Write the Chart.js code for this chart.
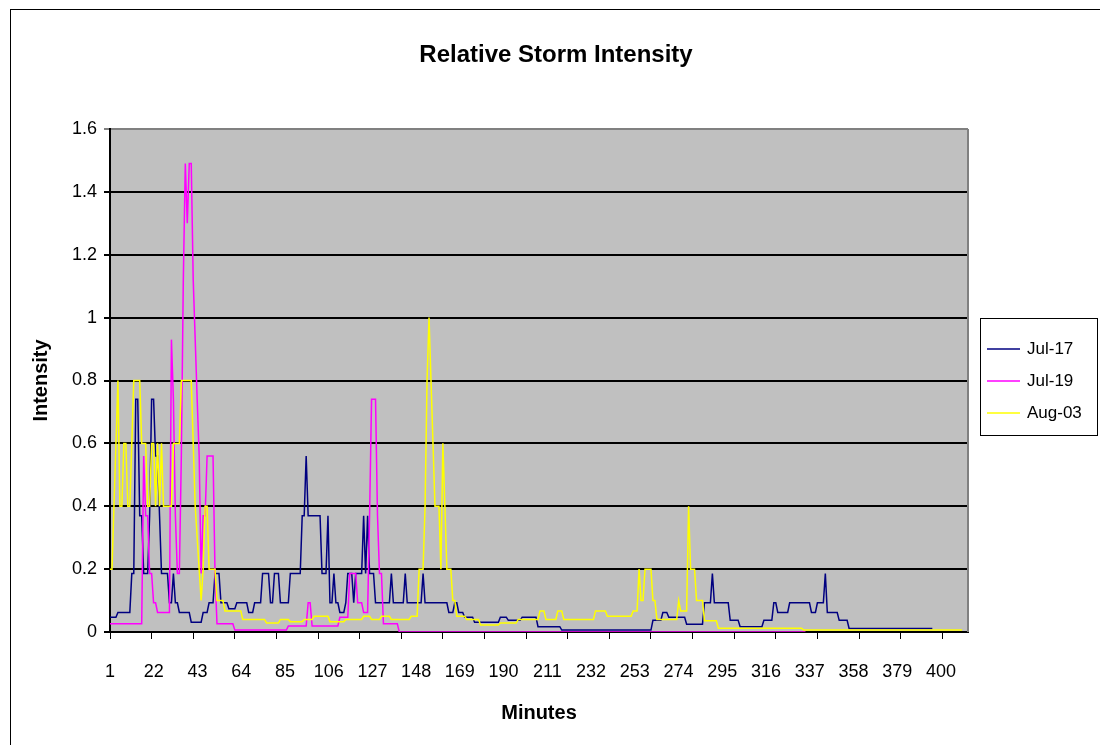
<!DOCTYPE html>
<html>
<head>
<meta charset="utf-8">
<title>Relative Storm Intensity</title>
<script src="https://cdn.jsdelivr.net/npm/chart.js@4"></script>
<style>
    body { margin: 0; background: #fff; }
    #stormChart { display: block; }
</style>
</head>
<body>
<canvas id="stormChart" width="1100" height="745"></canvas>

<script>
    const chartTitle = 'Relative Storm Intensity';
    const seriesNames = ['Jul-17', 'Jul-19', 'Aug-03'];
    const seriesColors = ['#000080', '#ff00ff', '#ffff00'];

    // position of every reading along the time axis (1..434)
    const samples = Array.from({ length: 434 }, (_, i) => i + 1);
    // tick marks sit every 21 readings
    const tickMarks = [1, 22, 43, 64, 85, 106, 127, 148, 169, 190, 211, 232, 253, 274, 295, 316, 337, 358, 379, 400, 421];

    // minute labels printed under the axis
    const minuteRange = [1, 413];
    const minuteLabels = [1, 22, 43, 64, 85, 106, 127, 148, 169, 190, 211, 232, 253, 274, 295, 316, 337, 358, 379, 400];

    const yTicks = { min: 0, max: 1.6, step: 0.2 };

    const jul17 = [
        0.047, 0.047, 0.047, 0.047, 0.062, 0.062, 0.062, 0.062, 0.062, 0.062, 0.062, 0.186, 0.186, 0.74, 0.74, 0.37, 0.37, 0.186, 0.186, 0.186,
        0.37, 0.74, 0.74, 0.56, 0.56, 0.37, 0.186, 0.186, 0.186, 0.186, 0.093, 0.093, 0.186, 0.093, 0.093, 0.062, 0.062, 0.062, 0.062, 0.062,
        0.062, 0.031, 0.031, 0.031, 0.031, 0.031, 0.031, 0.062, 0.062, 0.062, 0.093, 0.093, 0.093, 0.186, 0.186, 0.186, 0.093, 0.093, 0.093, 0.093,
        0.074, 0.074, 0.074, 0.074, 0.093, 0.093, 0.093, 0.093, 0.093, 0.093, 0.062, 0.062, 0.062, 0.093, 0.093, 0.093, 0.093, 0.186, 0.186, 0.186,
        0.186, 0.093, 0.093, 0.186, 0.186, 0.186, 0.093, 0.093, 0.093, 0.093, 0.093, 0.186, 0.186, 0.186, 0.186, 0.186, 0.186, 0.37, 0.37, 0.56,
        0.37, 0.37, 0.37, 0.37, 0.37, 0.37, 0.37, 0.186, 0.186, 0.186, 0.37, 0.093, 0.093, 0.186, 0.093, 0.093, 0.062, 0.062, 0.062, 0.093,
        0.186, 0.186, 0.186, 0.093, 0.186, 0.186, 0.186, 0.186, 0.37, 0.186, 0.37, 0.186, 0.186, 0.186, 0.093, 0.093, 0.093, 0.093, 0.093, 0.093,
        0.093, 0.093, 0.186, 0.093, 0.093, 0.093, 0.093, 0.093, 0.093, 0.186, 0.093, 0.093, 0.093, 0.093, 0.093, 0.093, 0.093, 0.093, 0.186, 0.093,
        0.093, 0.093, 0.093, 0.093, 0.093, 0.093, 0.093, 0.093, 0.093, 0.093, 0.093, 0.062, 0.062, 0.062, 0.093, 0.093, 0.062, 0.062, 0.062, 0.047,
        0.047, 0.047, 0.047, 0.047, 0.031, 0.031, 0.031, 0.031, 0.031, 0.031, 0.031, 0.031, 0.031, 0.031, 0.031, 0.031, 0.031, 0.047, 0.047, 0.047,
        0.047, 0.037, 0.037, 0.037, 0.037, 0.037, 0.037, 0.037, 0.047, 0.047, 0.047, 0.047, 0.047, 0.047, 0.047, 0.047, 0.017, 0.017, 0.017, 0.017,
        0.017, 0.017, 0.017, 0.017, 0.017, 0.017, 0.017, 0.017, 0.006, 0.006, 0.006, 0.006, 0.006, 0.006, 0.006, 0.006, 0.006, 0.006, 0.006, 0.006,
        0.006, 0.006, 0.006, 0.006, 0.006, 0.006, 0.006, 0.006, 0.006, 0.006, 0.006, 0.006, 0.006, 0.006, 0.006, 0.006, 0.006, 0.006, 0.006, 0.006,
        0.006, 0.006, 0.006, 0.006, 0.006, 0.006, 0.006, 0.006, 0.006, 0.006, 0.006, 0.006, 0.006, 0.006, 0.037, 0.037, 0.037, 0.037, 0.037, 0.062,
        0.062, 0.062, 0.047, 0.047, 0.047, 0.047, 0.047, 0.047, 0.047, 0.047, 0.047, 0.025, 0.025, 0.025, 0.025, 0.025, 0.025, 0.025, 0.025, 0.025,
        0.093, 0.093, 0.093, 0.093, 0.186, 0.093, 0.093, 0.093, 0.093, 0.093, 0.093, 0.093, 0.093, 0.037, 0.037, 0.037, 0.037, 0.037, 0.017, 0.017,
        0.017, 0.017, 0.017, 0.017, 0.017, 0.017, 0.017, 0.017, 0.017, 0.017, 0.037, 0.037, 0.037, 0.037, 0.037, 0.093, 0.093, 0.062, 0.062, 0.062,
        0.062, 0.062, 0.062, 0.093, 0.093, 0.093, 0.093, 0.093, 0.093, 0.093, 0.093, 0.093, 0.093, 0.093, 0.062, 0.062, 0.062, 0.093, 0.093, 0.093,
        0.093, 0.186, 0.062, 0.062, 0.062, 0.062, 0.062, 0.062, 0.037, 0.037, 0.037, 0.037, 0.037, 0.011, 0.011, 0.011, 0.011, 0.011, 0.011, 0.011,
        0.011, 0.011, 0.011, 0.011, 0.011, 0.011, 0.011, 0.011, 0.011, 0.011, 0.011, 0.011, 0.011, 0.011, 0.011, 0.011, 0.011, 0.011, 0.011, 0.011,
        0.011, 0.011, 0.011, 0.011, 0.011, 0.011, 0.011, 0.011, 0.011, 0.011, 0.011, 0.011, 0.011, 0.011, 0.011, 0.011
    ];

    const jul19 = [
        0.026, 0.026, 0.026, 0.026, 0.026, 0.026, 0.026, 0.026, 0.026, 0.026, 0.026, 0.026, 0.026, 0.026, 0.026, 0.026, 0.026, 0.56, 0.37, 0.37,
        0.186, 0.186, 0.093, 0.093, 0.062, 0.062, 0.062, 0.062, 0.062, 0.062, 0.062, 0.93, 0.74, 0.37, 0.186, 0.186, 0.56, 1.12, 1.49, 1.30,
        1.49, 1.49, 1.12, 0.93, 0.74, 0.56, 0.186, 0.37, 0.37, 0.56, 0.56, 0.56, 0.56, 0.186, 0.026, 0.026, 0.026, 0.026, 0.026, 0.026,
        0.026, 0.026, 0.026, 0.006, 0.006, 0.006, 0.006, 0.006, 0.006, 0.006, 0.006, 0.006, 0.006, 0.006, 0.006, 0.006, 0.006, 0.006, 0.006, 0.006,
        0.006, 0.006, 0.006, 0.006, 0.006, 0.006, 0.006, 0.006, 0.006, 0.006, 0.019, 0.019, 0.019, 0.019, 0.019, 0.019, 0.019, 0.019, 0.019, 0.019,
        0.093, 0.093, 0.019, 0.019, 0.019, 0.019, 0.019, 0.019, 0.019, 0.019, 0.019, 0.019, 0.019, 0.019, 0.019, 0.019, 0.047, 0.047, 0.047, 0.047,
        0.047, 0.186, 0.186, 0.186, 0.186, 0.093, 0.093, 0.093, 0.062, 0.062, 0.062, 0.37, 0.74, 0.74, 0.74, 0.37, 0.186, 0.186, 0.026, 0.026,
        0.026, 0.026, 0.026, 0.026, 0.026, 0.026, 0, 0, 0, 0, 0, 0, 0, 0, 0, 0, 0, 0, 0, 0,
        0, 0, 0, 0, 0, 0, 0, 0, 0, 0, 0, 0, 0, 0, 0, 0, 0, 0, 0, 0,
        0, 0, 0, 0, 0, 0, 0, 0, 0, 0, 0, 0, 0, 0, 0, 0, 0, 0, 0, 0,
        0, 0, 0, 0, 0, 0, 0, 0, 0, 0, 0, 0, 0, 0, 0, 0, 0, 0, 0, 0,
        0, 0, 0, 0, 0, 0, 0, 0, 0, 0, 0, 0, 0, 0, 0, 0, 0, 0, 0, 0,
        0, 0, 0, 0, 0, 0, 0, 0, 0, 0, 0, 0, 0, 0, 0, 0, 0, 0, 0, 0,
        0, 0, 0, 0, 0, 0, 0, 0, 0, 0, 0, 0, 0, 0, 0, 0, 0, 0, 0, 0,
        0, 0, 0, 0, 0, 0, 0, 0, 0, 0, 0, 0, 0, 0, 0, 0, 0, 0, 0, 0,
        0, 0, 0, 0, 0, 0, 0, 0, 0, 0, 0, 0, 0, 0, 0, 0, 0, 0, 0, 0,
        0, 0, 0, 0, 0, 0, 0, 0, 0, 0, 0, 0, 0, 0, 0, 0, 0, 0, 0, 0,
        0, 0, 0, 0, 0, 0, 0, 0, 0, 0, 0, 0
    ];

    const aug03 = [
        0.2, 0.2, 0.4, 0.6, 0.8, 0.4, 0.4, 0.6, 0.6, 0.4, 0.4, 0.6, 0.8, 0.8, 0.8, 0.8, 0.6, 0.6, 0.6, 0.4,
        0.4, 0.6, 0.6, 0.4, 0.6, 0.4, 0.6, 0.4, 0.4, 0.4, 0.4, 0.4, 0.6, 0.6, 0.6, 0.6, 0.8, 0.8, 0.8, 0.8,
        0.8, 0.8, 0.6, 0.4, 0.3, 0.2, 0.1, 0.2, 0.4, 0.4, 0.2, 0.2, 0.2, 0.2, 0.1, 0.1, 0.1, 0.1, 0.067, 0.067,
        0.067, 0.067, 0.067, 0.067, 0.067, 0.067, 0.067, 0.04, 0.04, 0.04, 0.04, 0.04, 0.04, 0.04, 0.04, 0.04, 0.04, 0.04, 0.04, 0.029,
        0.029, 0.029, 0.029, 0.029, 0.029, 0.029, 0.04, 0.04, 0.04, 0.04, 0.04, 0.033, 0.033, 0.033, 0.033, 0.033, 0.033, 0.033, 0.04, 0.04,
        0.04, 0.04, 0.04, 0.05, 0.05, 0.05, 0.05, 0.05, 0.05, 0.05, 0.05, 0.033, 0.033, 0.033, 0.033, 0.033, 0.033, 0.033, 0.033, 0.04,
        0.04, 0.04, 0.04, 0.04, 0.04, 0.04, 0.04, 0.04, 0.05, 0.05, 0.05, 0.05, 0.04, 0.04, 0.04, 0.04, 0.04, 0.05, 0.05, 0.05,
        0.05, 0.05, 0.04, 0.04, 0.04, 0.04, 0.04, 0.04, 0.04, 0.04, 0.04, 0.04, 0.05, 0.05, 0.05, 0.05, 0.2, 0.2, 0.2, 0.4,
        0.8, 1.0, 0.8, 0.6, 0.4, 0.4, 0.4, 0.2, 0.6, 0.4, 0.2, 0.2, 0.2, 0.1, 0.1, 0.05, 0.05, 0.05, 0.05, 0.05,
        0.04, 0.04, 0.04, 0.04, 0.04, 0.04, 0.04, 0.022, 0.022, 0.022, 0.022, 0.022, 0.022, 0.022, 0.022, 0.022, 0.022, 0.029, 0.029, 0.029,
        0.029, 0.029, 0.029, 0.029, 0.029, 0.029, 0.04, 0.04, 0.04, 0.04, 0.04, 0.04, 0.04, 0.04, 0.04, 0.04, 0.04, 0.067, 0.067, 0.067,
        0.04, 0.04, 0.04, 0.04, 0.04, 0.04, 0.067, 0.067, 0.067, 0.04, 0.04, 0.04, 0.04, 0.04, 0.04, 0.04, 0.04, 0.04, 0.04, 0.04,
        0.04, 0.04, 0.04, 0.04, 0.04, 0.067, 0.067, 0.067, 0.067, 0.067, 0.067, 0.05, 0.05, 0.05, 0.05, 0.05, 0.05, 0.05, 0.05, 0.05,
        0.05, 0.05, 0.05, 0.05, 0.067, 0.067, 0.067, 0.2, 0.1, 0.1, 0.2, 0.2, 0.2, 0.2, 0.1, 0.1, 0.04, 0.04, 0.04, 0.04,
        0.04, 0.04, 0.04, 0.04, 0.04, 0.04, 0.04, 0.1, 0.067, 0.067, 0.067, 0.067, 0.4, 0.2, 0.2, 0.2, 0.1, 0.1, 0.1, 0.1,
        0.036, 0.036, 0.036, 0.036, 0.036, 0.036, 0.036, 0.012, 0.012, 0.012, 0.012, 0.012, 0.012, 0.012, 0.012, 0.012, 0.012, 0.012, 0.012, 0.012,
        0.012, 0.012, 0.012, 0.012, 0.012, 0.012, 0.012, 0.012, 0.012, 0.012, 0.012, 0.012, 0.012, 0.012, 0.012, 0.012, 0.012, 0.012, 0.012, 0.012,
        0.012, 0.012, 0.012, 0.012, 0.012, 0.012, 0.012, 0.012, 0.012, 0.012, 0.006, 0.006, 0.006, 0.006, 0.006, 0.006, 0.006, 0.006, 0.006, 0.006,
        0.006, 0.006, 0.006, 0.006, 0.006, 0.006, 0.006, 0.006, 0.006, 0.006, 0.006, 0.006, 0.006, 0.006, 0.006, 0.006, 0.006, 0.006, 0.006, 0.006,
        0.006, 0.006, 0.006, 0.006, 0.006, 0.006, 0.006, 0.006, 0.006, 0.006, 0.006, 0.006, 0.006, 0.006, 0.006, 0.006, 0.006, 0.006, 0.006, 0.006,
        0.006, 0.006, 0.006, 0.006, 0.006, 0.006, 0.006, 0.006, 0.006, 0.006, 0.006, 0.006, 0.006, 0.006, 0.006, 0.006, 0.006, 0.006, 0.006, 0.006,
        0.006, 0.006, 0.006, 0.006, 0.006, 0.006, 0.006, 0.006, 0.006, 0.006, 0.006
    ];

    const FONT = '"Liberation Sans", Arial, sans-serif';
    Chart.defaults.font.family = FONT;
    Chart.defaults.color = '#000';

    function toPoints(values) {
        return values.map((v, i) => ({ x: samples[i], y: v }));
    }

    // gray plot area, outer frame, title and boxed legend on the right
    const excelFrame = {
        id: 'excelFrame',
        beforeDraw(chart) {
            const { ctx, chartArea: a } = chart;
            ctx.save();
            ctx.fillStyle = '#c0c0c0';
            ctx.fillRect(a.left, a.top, a.right - a.left, a.bottom - a.top);
            ctx.restore();
        },
        afterDraw(chart) {
            const { ctx, chartArea: a } = chart;
            ctx.save();

            ctx.strokeStyle = '#808080';
            ctx.lineWidth = 2;
            ctx.beginPath();
            ctx.moveTo(a.right, a.top);
            ctx.lineTo(a.right, a.bottom);
            ctx.stroke();

            ctx.strokeStyle = '#000';
            ctx.lineWidth = 1;
            ctx.strokeRect(10.5, 9.5, 1100, 745);

            ctx.fillStyle = '#000';
            ctx.font = 'bold 24px ' + FONT;
            ctx.textAlign = 'center';
            ctx.textBaseline = 'middle';
            ctx.fillText(chartTitle, 556, 55);

            // legend box
            ctx.fillStyle = '#fff';
            ctx.fillRect(980.5, 318.5, 117, 117);
            ctx.strokeRect(980.5, 318.5, 117, 117);
            ctx.font = '17px ' + FONT;
            ctx.textAlign = 'left';
            chart.data.datasets.forEach((ds, i) => {
                const y = 349 + i * 32;
                ctx.strokeStyle = ds.borderColor;
                ctx.lineWidth = 1.5;
                ctx.beginPath();
                ctx.moveTo(987, y);
                ctx.lineTo(1020, y);
                ctx.stroke();
                ctx.fillStyle = '#000';
                ctx.fillText(ds.label, 1027, y);
            });
            ctx.restore();
        }
    };

    const ctx = document.getElementById('stormChart').getContext('2d');

    new Chart(ctx, {
        type: 'line',
        data: {
            datasets: [
                { label: seriesNames[0], data: toPoints(jul17), borderColor: seriesColors[0], order: 3 },
                { label: seriesNames[1], data: toPoints(jul19), borderColor: seriesColors[1], order: 2 },
                { label: seriesNames[2], data: toPoints(aug03), borderColor: seriesColors[2], order: 1 }
            ]
        },
        options: {
            responsive: false,
            animation: false,
            devicePixelRatio: 1,
            layout: { padding: { top: 129, right: 132, bottom: 0, left: 0 } },
            elements: {
                point: { radius: 0 },
                line: { borderWidth: 1.5, tension: 0, fill: false }
            },
            plugins: {
                legend: { display: false },
                title: { display: false },
                tooltip: { enabled: false }
            },
            scales: {
                // reading axis: only the line and its tick marks
                x: {
                    type: 'linear',
                    position: 'bottom',
                    weight: 0,
                    min: samples[0],
                    max: samples[samples.length - 1],
                    afterBuildTicks: axis => {
                        axis.ticks = tickMarks.map(v => ({ value: v }));
                    },
                    afterFit: axis => { axis.height = 7; },
                    ticks: { display: false },
                    grid: { drawOnChartArea: false, color: '#000', tickLength: 7, lineWidth: 1 },
                    border: { color: '#000', width: 2 }
                },
                // minute labels and axis title
                minutes: {
                    type: 'linear',
                    position: 'bottom',
                    weight: 1,
                    min: minuteRange[0],
                    max: minuteRange[1],
                    afterBuildTicks: axis => {
                        axis.ticks = minuteLabels.map(v => ({ value: v }));
                    },
                    afterFit: axis => { axis.height = 106; },
                    ticks: { autoSkip: false, maxRotation: 0, padding: 22, font: { size: 18 } },
                    grid: { display: false, drawTicks: false },
                    border: { display: false },
                    title: {
                        display: true,
                        text: 'Minutes',
                        font: { size: 20, weight: 'bold' },
                        padding: { top: 0, bottom: 20 }
                    }
                },
                y: {
                    min: yTicks.min,
                    max: yTicks.max,
                    afterFit: axis => { axis.width = 110; },
                    ticks: {
                        stepSize: yTicks.step,
                        padding: 7,
                        font: { size: 18 },
                        callback: v => String(Math.round(v * 10) / 10)
                    },
                    grid: {
                        color: c => (c.tick && c.tick.value === yTicks.max ? '#808080' : '#000'),
                        lineWidth: 2,
                        tickLength: 6
                    },
                    border: { color: '#000', width: 2 },
                    title: {
                        display: true,
                        text: 'Intensity',
                        font: { size: 20, weight: 'bold' },
                        padding: { top: 29, bottom: 0 }
                    }
                }
            }
        },
        plugins: [excelFrame]
    });
</script>
</body>
</html>
